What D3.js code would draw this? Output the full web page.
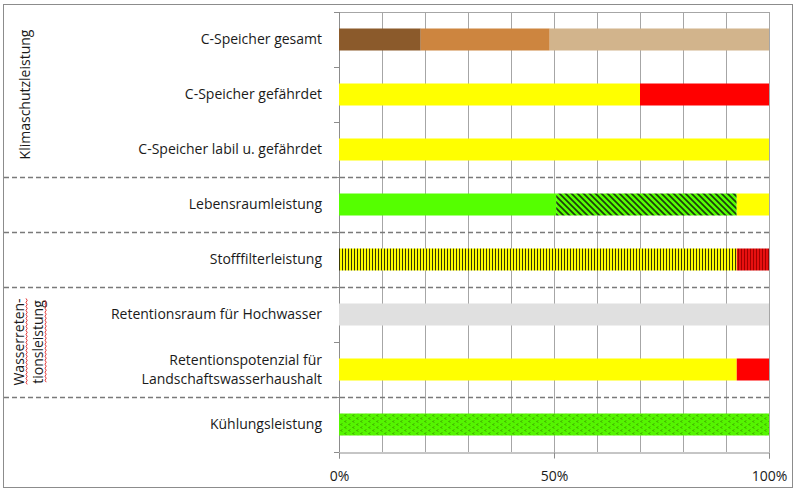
<!DOCTYPE html>
<html>
<head>
<meta charset="utf-8">
<script src="https://cdn.jsdelivr.net/npm/d3@7"></script>
<style>
  body { margin: 0; background: #fff; }
  svg { display: block; font-family: "Open Sans", "Noto Sans", sans-serif; }
</style>
</head>
<body>
<div id="chart"></div>
<script>
// Bewertung der Ökosystemleistungen - gestapelte 100%-Balken

const categories = [
  "C-Speicher gesamt",
  "C-Speicher gefährdet",
  "C-Speicher labil u. gefährdet",
  "Lebensraumleistung",
  "Stofffilterleistung",
  "Retentionsraum für Hochwasser",
  "Retentionspotenzial für|Landschaftswasserhaushalt",
  "Kühlungsleistung"
];

// segment shares per row (fractions, left to right)
const segmentValues = [
  [0.19, 0.30, 0.51],
  [0.70, 0.30],
  [1.00],
  [0.505, 0.42, 0.075],
  [0.925, 0.075],
  [1.00],
  [0.925, 0.075],
  [1.00]
];

// fill key per segment
const segmentKinds = [
  ["darkbrown", "peru", "tan"],
  ["yellow", "red"],
  ["yellow"],
  ["green", "greenHatch", "yellow"],
  ["yellowStripe", "redStripe"],
  ["gray"],
  ["yellow", "red"],
  ["greenDots"]
];

const xTicks = [0, 0.5, 1];
const groupBreaks = [3, 4, 5, 7]; // dashed line before these rows
const groupLabels = [
  { lines: ["Klimaschutzleistung"], rows: [0, 2], spell: false, base: [30] },
  { lines: ["Wasserreten-", "tionsleistung"], rows: [5, 6], spell: true, base: [24, 43] }
];

const width = 800, height = 491;
const margin = { top: 12, right: 31, bottom: 39, left: 339 };

const svg = d3.select("#chart").append("svg")
  .attr("width", width)
  .attr("height", height);

// patterns
const defs = svg.append("defs");

const hatch = defs.append("pattern")
  .attr("id", "greenHatch")
  .attr("patternUnits", "userSpaceOnUse")
  .attr("width", 6).attr("height", 6);
hatch.append("rect").attr("width", 6).attr("height", 6).attr("fill", "#55ff00");
hatch.append("path")
  .attr("d", "M0,0L6,6M-3,3L3,9M3,-3L9,3")
  .attr("stroke", "#1c3f0c").attr("stroke-width", 1.7);

const ystripe = defs.append("pattern")
  .attr("id", "yellowStripe")
  .attr("patternUnits", "userSpaceOnUse")
  .attr("width", 3).attr("height", 4);
ystripe.append("rect").attr("width", 3).attr("height", 4).attr("fill", "#ffff00");
ystripe.append("rect").attr("width", 1).attr("height", 4).attr("fill", "#3a3a00");

const rstripe = defs.append("pattern")
  .attr("id", "redStripe")
  .attr("patternUnits", "userSpaceOnUse")
  .attr("width", 3).attr("height", 4);
rstripe.append("rect").attr("width", 3).attr("height", 4).attr("fill", "#e81010");
rstripe.append("rect").attr("width", 1).attr("height", 4).attr("fill", "#a00000");

const dots = defs.append("pattern")
  .attr("id", "greenDots")
  .attr("patternUnits", "userSpaceOnUse")
  .attr("width", 8).attr("height", 6);
dots.append("rect").attr("width", 8).attr("height", 6).attr("fill", "#55f500");
dots.append("path")
  .attr("d", "M2,0.5L1,1.5L2,2.5M6,3.5L5,4.5L6,5.5")
  .attr("stroke", "#2a6a00").attr("stroke-width", 0.9).attr("fill", "none");

const fills = {
  darkbrown: "#8b5a2b",
  peru: "#cd853f",
  tan: "#d2b48c",
  yellow: "#ffff00",
  red: "#ff0000",
  green: "#55ff00",
  gray: "#e0e0e0",
  greenHatch: "url(#greenHatch)",
  yellowStripe: "url(#yellowStripe)",
  redStripe: "url(#redStripe)",
  greenDots: "url(#greenDots)"
};

// outer frame
svg.append("rect")
  .attr("x", 3.5).attr("y", 4.5)
  .attr("width", 789).attr("height", 483)
  .attr("fill", "none")
  .attr("stroke", "#8c8c8c");

const x = d3.scaleLinear()
  .domain([0, 1])
  .range([margin.left, width - margin.right]);

const y = d3.scaleBand()
  .domain(categories)
  .range([margin.top, height - margin.bottom])
  .paddingInner(0.6)
  .paddingOuter(0.3);

const step = y.step();
const plotTop = margin.top, plotBottom = height - margin.bottom;

// gridlines every 10%
svg.append("g")
  .selectAll("line")
  .data(d3.range(0, 1.0001, 0.1))
  .enter().append("line")
  .attr("x1", d => Math.round(x(d)) + 0.5)
  .attr("x2", d => Math.round(x(d)) + 0.5)
  .attr("y1", plotTop)
  .attr("y2", plotBottom)
  .attr("stroke", "#a6a6a6");

svg.append("line")
  .attr("x1", x(0)).attr("x2", x(1))
  .attr("y1", plotTop + 0.5).attr("y2", plotTop + 0.5)
  .attr("stroke", "#a6a6a6");

// bottom axis
const xAxis = svg.append("g")
  .attr("transform", `translate(0,${plotBottom + 0.5})`)
  .call(d3.axisBottom(x).tickValues(xTicks).tickFormat(d3.format(".0%")).tickSize(6).tickPadding(13));
xAxis.select(".domain").attr("stroke", "#8c8c8c");
xAxis.selectAll(".tick line").attr("stroke", "#8c8c8c");
xAxis.selectAll("text")
  .attr("fill", "#1a1a1a")
  .style("font-size", "14px")
  .style("font-family", "'Open Sans', sans-serif");

// left axis line with row boundary ticks
const boundaries = categories.map(c => y(c) - step * 0.3).concat([plotBottom]);
svg.append("line")
  .attr("x1", x(0) + 0.5).attr("x2", x(0) + 0.5)
  .attr("y1", plotTop).attr("y2", plotBottom)
  .attr("stroke", "#8c8c8c");
svg.append("g")
  .selectAll("line")
  .data(boundaries)
  .enter().append("line")
  .attr("x1", x(0) - 5).attr("x2", x(0))
  .attr("y1", d => Math.round(d) + 0.5)
  .attr("y2", d => Math.round(d) + 0.5)
  .attr("stroke", "#8c8c8c");

// stacked bars
const rows = categories.map((cat, i) => {
  let acc = 0;
  return segmentValues[i].map((v, j) => {
    const seg = { cat, x0: acc, x1: acc + v, kind: segmentKinds[i][j] };
    acc += v;
    return seg;
  });
});

svg.append("g")
  .selectAll("rect")
  .data(rows.flat())
  .enter().append("rect")
  .attr("x", d => x(d.x0))
  .attr("y", d => y(d.cat))
  .attr("width", d => x(Math.min(d.x1, 1)) - x(d.x0))
  .attr("height", y.bandwidth())
  .attr("fill", d => fills[d.kind]);

// dashed group separators
svg.append("g")
  .selectAll("line")
  .data(groupBreaks)
  .enter().append("line")
  .attr("x1", 4)
  .attr("x2", x(1))
  .attr("y1", i => Math.round(boundaries[i]) + 0.5)
  .attr("y2", i => Math.round(boundaries[i]) + 0.5)
  .attr("stroke", "#7a7a7a")
  .attr("stroke-width", 1.6)
  .attr("stroke-dasharray", "5 3");

// category labels
const labels = svg.append("g")
  .selectAll("text")
  .data(categories)
  .enter().append("text")
  .attr("x", x(0) - 17)
  .attr("y", d => y(d) + y.bandwidth() / 2)
  .attr("text-anchor", "end")
  .attr("fill", "#1a1a1a")
  .style("font-size", "14px");

labels.each(function (d) {
  const parts = d.split("|");
  const t = d3.select(this);
  parts.forEach((p, k) => {
    t.append("tspan")
      .attr("x", x(0) - 17)
      .attr("dy", k === 0 ? `${0.35 - (parts.length - 1) * 0.65}em` : "1.3em")
      .text(p);
  });
});

// rotated group labels on the left
groupLabels.forEach(g => {
  const top = boundaries[g.rows[0]];
  const bottom = boundaries[g.rows[1] + 1];
  const cy = (top + bottom) / 2;
  g.lines.forEach((line, k) => {
    const bx = g.base[k];
    const txt = svg.append("text")
      .attr("transform", `translate(${bx},${cy}) rotate(-90)`)
      .attr("text-anchor", "middle")
      .attr("fill", "#1a1a1a")
      .style("font-size", "14px")
      .text(line);
    if (g.spell) {
      const len = txt.node().getComputedTextLength();
      const ys = d3.range(cy - len / 2, cy + len / 2, 2);
      svg.append("path")
        .attr("d", d3.line()(ys.map((yy, m) => [bx + 2 + (m % 2 ? 1.2 : 0), yy])))
        .attr("fill", "none")
        .attr("stroke", "#e02020")
        .attr("stroke-width", 0.9);
    }
  });
});
</script>
</body>
</html>
